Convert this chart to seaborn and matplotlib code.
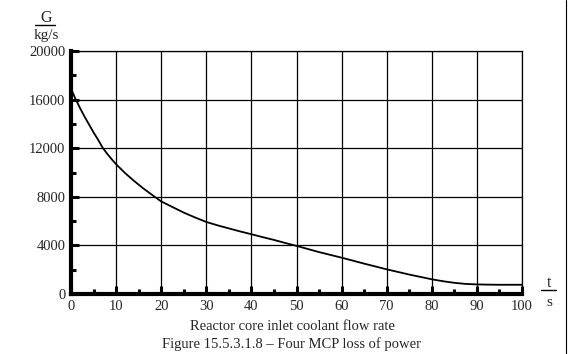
import matplotlib
matplotlib.use("Agg")
import matplotlib.pyplot as plt
import matplotlib.ticker as mtick
from matplotlib.lines import Line2D
import pandas as pd
import seaborn as sns

sns.set_theme(style='white')
plt.rcParams['font.family'] = ['Liberation Serif', 'DejaVu Serif']

# flow rate vs time
t = [0, 1, 2, 3, 4, 5, 6, 7, 8, 9, 10, 12, 14, 16, 18, 20, 22, 25, 27.5,
     30, 32.5, 35, 37.5, 40, 42.5, 45, 47.5, 50, 55, 60, 65, 70, 75, 80,
     82.5, 85, 87.5, 90, 92.5, 95, 100]
G = [16900, 16050, 15300, 14600, 13950, 13300, 12700, 12050, 11550, 11100,
     10680, 9950, 9300, 8700, 8150, 7620, 7250, 6700, 6300,
     5930, 5650, 5400, 5150, 4920, 4680, 4450, 4200, 3960, 3450, 2990,
     2500, 2030, 1600, 1210, 1050, 920, 830, 790, 770, 760, 760]
df = pd.DataFrame({'t': t, 'G': G})

W, H = 575, 354
fig = plt.figure(figsize=(W / 100, H / 100), dpi=100)
ax = fig.add_axes([71 / W, 1 - 294 / H, 451 / W, 243 / H])

sns.lineplot(x='t', y='G', data=df, color='black', linewidth=1.3, ax=ax)

ax.set_xlim(0, 100)
ax.set_ylim(0, 20000)
ax.xaxis.set_major_locator(mtick.MultipleLocator(10))
ax.xaxis.set_minor_locator(mtick.MultipleLocator(5))
ax.yaxis.set_major_locator(mtick.MultipleLocator(4000))
ax.yaxis.set_minor_locator(mtick.MultipleLocator(2000))
ax.grid(True, which='major', color='black', linewidth=0.9)
ax.tick_params(which='major', direction='in', length=6, width=2.2,
               labelsize=10.5, pad=4, color='black')
ax.tick_params(which='minor', direction='in', length=3.5, width=2.2, color='black')
ax.tick_params(axis='x', bottom=True, which='both')
ax.tick_params(axis='y', left=True, which='both')

for side in ['left', 'bottom']:
    ax.spines[side].set_linewidth(3)
    ax.spines[side].set_color('black')
for side in ['top', 'right']:
    ax.spines[side].set_linewidth(0.9)
    ax.spines[side].set_color('black')

ax.set_xlabel('')
ax.set_ylabel('')


def fig_line(x0, x1, y0, y1, lw=0.8):
    fig.add_artist(Line2D([x0 / W, x1 / W], [1 - y0 / H, 1 - y1 / H],
                          color='black', linewidth=lw))


# axis unit captions (quantity over unit)
fig.text(46 / W, 1 - 18 / H, 'G', ha='center', va='center', fontsize=11.5)
fig_line(35, 55, 25, 25, lw=1)
fig.text(46 / W, 1 - 35 / H, 'kg/s', ha='center', va='center', fontsize=11)
fig.text(549 / W, 1 - 283 / H, 't', ha='center', va='center', fontsize=11.5)
fig_line(541, 556, 290, 290, lw=1)
fig.text(549 / W, 1 - 302 / H, 's', ha='center', va='center', fontsize=11)

fig.text(292 / W, 1 - 326 / H, 'Reactor core inlet coolant flow rate',
         ha='center', va='center', fontsize=10.5)
fig.text(292 / W, 1 - 344 / H, 'Figure 15.5.3.1.8 \u2013 Four MCP loss of power',
         ha='center', va='center', fontsize=10.5)

# page border on the right
fig_line(566, 566, 0, H)

fig.savefig('out.png', dpi=100)
